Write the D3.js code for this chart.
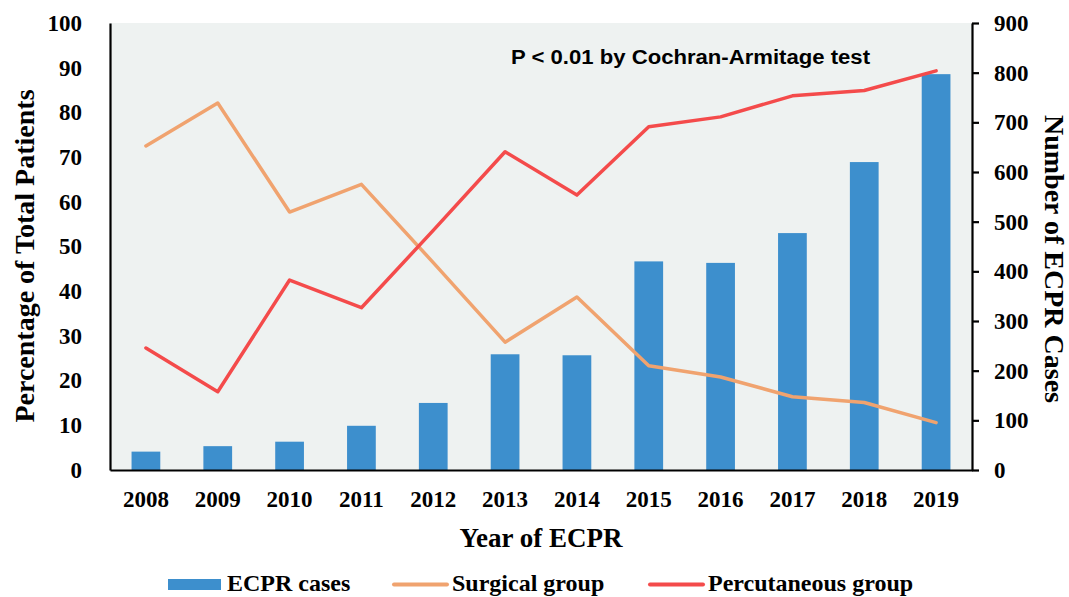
<!DOCTYPE html>
<html>
<head>
<meta charset="utf-8">
<script src="https://cdn.jsdelivr.net/npm/d3@7"></script>
<style>
  body { margin: 0; background: #fff; }
  svg { display: block; }
</style>
</head>
<body>
<div id="chart"></div>
<script>
// Datos
const years = ['2008','2009','2010','2011','2012','2013','2014','2015','2016','2017','2018','2019'];
const ecprCases = [37, 48, 57, 89, 135, 233, 231, 420, 417, 477, 620, 797];
const surgical = [72.5, 82.1, 57.7, 63.9, 46.4, 28.6, 38.7, 23.3, 20.8, 16.4, 15.1, 10.6];
const percutaneous = [27.3, 17.5, 42.5, 36.3, 53.6, 71.2, 61.5, 76.8, 79.0, 83.7, 84.9, 89.3];
const leftTicks = [0,10,20,30,40,50,60,70,80,90,100];
const rightTicks = [0,100,200,300,400,500,600,700,800,900];

const width = 1069, height = 597;
const m = { left: 110, right: 972, top: 23, bottom: 470 };
const serif = '"Liberation Serif", "Times New Roman", serif';

const svg = d3.select('#chart').append('svg')
  .attr('width', width).attr('height', height);

// Escalas
const x = d3.scaleBand().domain(years).range([m.left, m.right]).padding(0);
const yL = d3.scaleLinear().domain([0, 100]).range([m.bottom, m.top]);
const yR = d3.scaleLinear().domain([0, 900]).range([m.bottom, m.top]);

// Fondo del área de trazado
svg.append('rect')
  .attr('x', m.left).attr('y', m.top)
  .attr('width', m.right - m.left).attr('height', m.bottom - m.top)
  .attr('fill', '#eef2f1');

// Barras
const barW = x.bandwidth() * 0.4;
svg.append('g').selectAll('rect').data(ecprCases).enter().append('rect')
  .attr('x', (d, i) => x(years[i]) + (x.bandwidth() - barW) / 2)
  .attr('y', d => yR(d))
  .attr('width', barW)
  .attr('height', d => yR(0) - yR(d))
  .attr('fill', '#3d8fcd');

// Líneas
const linea = d3.line()
  .x((d, i) => x(years[i]) + x.bandwidth() / 2)
  .y(d => yL(d));

svg.append('path').datum(surgical)
  .attr('d', linea).attr('fill', 'none')
  .attr('stroke', '#f0a36f').attr('stroke-width', 3.5)
  .attr('stroke-linecap', 'round').attr('stroke-linejoin', 'round');

svg.append('path').datum(percutaneous)
  .attr('d', linea).attr('fill', 'none')
  .attr('stroke', '#f44b4b').attr('stroke-width', 3.5)
  .attr('stroke-linecap', 'round').attr('stroke-linejoin', 'round');

// Ejes
const estiloEje = g => {
  g.select('.domain').attr('stroke', '#000').attr('stroke-width', 2.2);
  g.selectAll('.tick line').attr('stroke', '#000').attr('stroke-width', 2.2);
  g.selectAll('.tick text')
    .attr('font-family', serif).attr('font-weight', 'bold')
    .attr('font-size', 23).attr('fill', '#000');
};

svg.append('g')
  .attr('transform', `translate(${m.left},0)`)
  .call(d3.axisLeft(yL).tickValues(leftTicks).tickSize(0).tickPadding(28))
  .call(estiloEje);

svg.append('g')
  .attr('transform', `translate(${m.right},0)`)
  .call(d3.axisRight(yR).tickValues(rightTicks).tickSizeOuter(0).tickSizeInner(7).tickPadding(15))
  .call(estiloEje);

svg.append('g')
  .attr('transform', `translate(0,${m.bottom})`)
  .call(d3.axisBottom(x).tickSize(0).tickPadding(21))
  .call(estiloEje);

// Títulos
svg.append('text')
  .attr('transform', `translate(34,256) rotate(-90)`)
  .attr('text-anchor', 'middle')
  .attr('font-family', serif).attr('font-weight', 'bold').attr('font-size', 28)
  .text('Percentage of Total Patients');

svg.append('text')
  .attr('transform', `translate(1045,259) rotate(90)`)
  .attr('text-anchor', 'middle')
  .attr('font-family', serif).attr('font-weight', 'bold').attr('font-size', 28)
  .text('Number of ECPR Cases');

svg.append('text')
  .attr('x', 541).attr('y', 547)
  .attr('text-anchor', 'middle')
  .attr('font-family', serif).attr('font-weight', 'bold').attr('font-size', 27)
  .text('Year of ECPR');

svg.append('text')
  .attr('x', 511).attr('y', 64)
  .attr('textLength', 359).attr('lengthAdjust', 'spacingAndGlyphs')
  .attr('font-family', '"Liberation Sans", Arial, sans-serif').attr('font-weight', 'bold').attr('font-size', 20)
  .text('P < 0.01 by Cochran-Armitage test');

// Leyenda
const leyenda = [
  { label: 'ECPR cases', tipo: 'bar', color: '#3d8fcd', x: 168 },
  { label: 'Surgical group', tipo: 'line', color: '#f0a36f', x: 393 },
  { label: 'Percutaneous group', tipo: 'line', color: '#f44b4b', x: 649 }
];
const ly = 584.5;
const items = svg.append('g').selectAll('g').data(leyenda).enter().append('g')
  .attr('transform', d => `translate(${d.x},${ly})`);
items.filter(d => d.tipo === 'bar').append('rect')
  .attr('x', 0).attr('y', -5.5).attr('width', 53).attr('height', 11).attr('fill', d => d.color);
items.filter(d => d.tipo === 'line').append('line')
  .attr('x1', 1).attr('x2', 54).attr('y1', 0).attr('y2', 0)
  .attr('stroke', d => d.color).attr('stroke-width', 4).attr('stroke-linecap', 'round');
items.append('text')
  .attr('x', d => d.tipo === 'bar' ? 59 : 59)
  .attr('y', 6.5)
  .attr('font-family', serif).attr('font-weight', 'bold').attr('font-size', 24)
  .text(d => d.label);
</script>
</body>
</html>
